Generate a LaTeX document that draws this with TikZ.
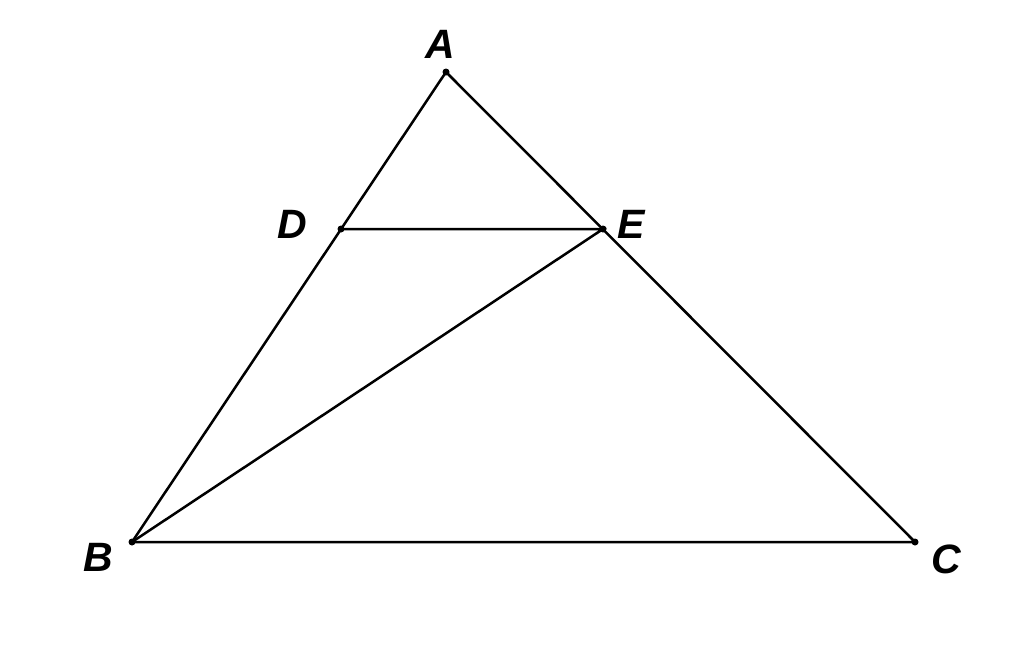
\documentclass[tikz,border=0pt]{standalone}
\usepackage{fontspec}
\setmainfont{Liberation Sans}
\begin{document}
\begin{tikzpicture}[x=1pt,y=-1pt,
  seg/.style={line width=2.5pt,black},
  ptdot/.style={circle,fill=black,inner sep=0pt,minimum size=7pt},
  lbl/.style={font=\fontsize{41}{41}\selectfont\bfseries\itshape,inner sep=0pt,anchor=center}]
\useasboundingbox (0,0) rectangle (1024,651);
\coordinate (A) at (446,72);
\coordinate (D) at (341,229);
\coordinate (E) at (603,229);
\coordinate (B) at (132,542);
\coordinate (C) at (915,542);
\draw[seg] (A) -- (B) -- (C) -- cycle;
\draw[seg] (D) -- (E) -- (B);
\foreach \p in {A,D,E,B,C} \node[ptdot] (dot\p) at (\p) {};
\node[lbl] (lA) at (440,44) {A};
\node[lbl] (lD) at (292,224) {D};
\node[lbl] (lE) at (631,224) {E};
\node[lbl] (lB) at (98,557) {B};
\node[lbl] (lC) at (946,559) {C};
\end{tikzpicture}
\end{document}
